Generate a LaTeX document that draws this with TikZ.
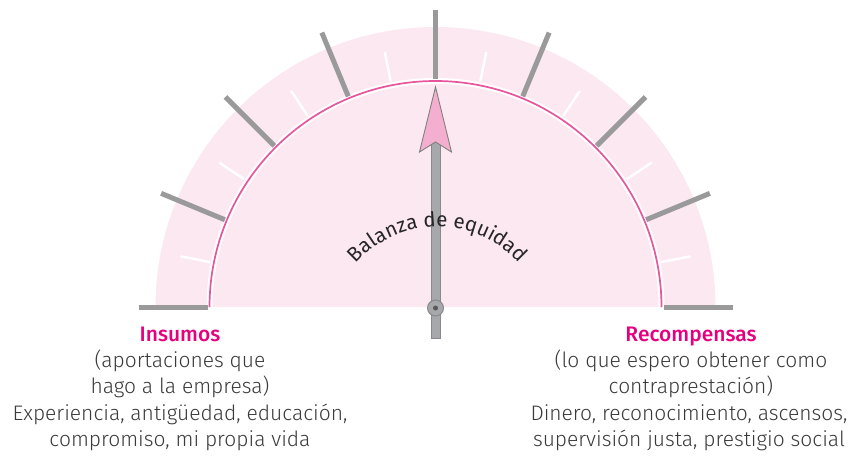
\documentclass[tikz,border=0pt]{standalone}
\usepackage{fontspec}
\setmainfont{Fira Sans}[UprightFont=* Light, BoldFont=* Medium]
\newfontfamily\arcfont{Fira Sans}
\usetikzlibrary{decorations.text}
\definecolor{pinkbg}{HTML}{FCE8F1}
\definecolor{pinkline}{HTML}{E8559C}
\definecolor{magenta}{HTML}{E6007E}
\definecolor{tickgray}{HTML}{9A9A9A}
\definecolor{needlegray}{HTML}{A7A8AB}
\definecolor{needleedge}{HTML}{88898C}
\definecolor{arrowpink}{HTML}{F4AECF}
\definecolor{bodytext}{HTML}{3A3A3A}
\tikzset{
  majortick/.style={draw=tickgray, line width=5pt},
  minortick/.style={draw=white, line width=2.5pt},
  heading/.style={anchor=base, inner sep=0pt, text=magenta, font=\bfseries\fontsize{21}{25}\selectfont},
  bodyline/.style={anchor=base, inner sep=0pt, text=bodytext, font=\fontsize{21}{25}\selectfont},
}
\begin{document}
\begin{tikzpicture}[x=1pt,y=-1pt]
\useasboundingbox (0,0) rectangle (853,455);
\coordinate (c) at (435.5,307);
\coordinate (tc) at (437.5,337);
% background semicircle
\fill[pinkbg] ([shift={(180:280)}]c) arc[start angle=180,end angle=360,radius=280] -- cycle;
% white band and pink line
\draw[white, line width=6pt] ([shift={(180:226)}]c) arc[start angle=180,end angle=360,radius=226];
\draw[pinkline, line width=1.7pt] ([shift={(180:226)}]c) arc[start angle=180,end angle=360,radius=226];
% ticks
\foreach \a in {0,22.5,...,180}
  \draw[majortick] ([shift={(180+\a:228)}]c) -- ([shift={(180+\a:297)}]c);
\foreach \a in {11.25,33.75,...,170}
  \draw[minortick] ([shift={(180+\a:230)}]c) -- ([shift={(180+\a:260)}]c);
% needle
\filldraw[fill=needlegray, draw=needleedge, line width=0.6pt] (431.2,142) rectangle (439.8,338);
\filldraw[fill=arrowpink, draw=gray, line width=0.9pt] (435.5,87) -- (451.5,152) -- (435.5,142) -- (419.5,152) -- cycle;
\filldraw[fill=needlegray, draw=needleedge, line width=1pt] (435.5,308) circle[radius=8];
\fill[black!65] (435.5,308) circle[radius=2.5];
% arc text
\path[decorate, decoration={text along path, text align=center,
  text={|\arcfont\fontsize{20.5}{21}\selectfont\color{black!85}|Balanza de equidad}}]
  ([shift={(210:110)}]tc) arc[start angle=210,end angle=330,radius=110];
% left texts
\node[heading] (ins) at (180,341) {Insumos};
\node[bodyline] (l1) at (180,367) {(aportaciones que};
\node[bodyline] (l2) at (180,393.5) {hago a la empresa)};
\node[bodyline] (l3) at (180,420) {Experiencia, antigüedad, educación,};
\node[bodyline] (l4) at (180,446.5) {compromiso, mi propia vida};
% right texts
\node[heading] (rec) at (691,341) {Recompensas};
\node[bodyline] (r1) at (691,367) {(lo que espero obtener como};
\node[bodyline] (r2) at (691,393.5) {contraprestación)};
\node[bodyline] (r3) at (689,420) {Dinero, reconocimiento, ascensos,};
\node[bodyline] (r4) at (689,446.5) {supervisión justa, prestigio social};
\end{tikzpicture}
\end{document}
